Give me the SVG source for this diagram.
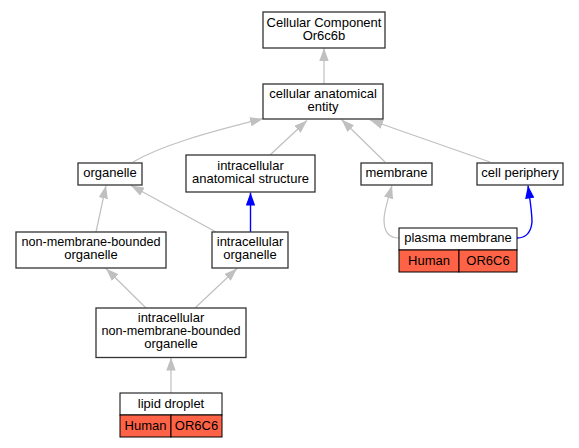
<svg xmlns="http://www.w3.org/2000/svg" width="579" height="448" viewBox="0 0 579 448">
<style>
text{font-family:"Liberation Sans",Arial,sans-serif;font-size:13px;fill:#000;text-anchor:middle}
.box{fill:#fff;stroke:#333;stroke-width:1.3}
.cell{fill:#fff;stroke:#000;stroke-width:1}
.red{fill:#ff6347;stroke:#000;stroke-width:1}
.e{fill:none;stroke:#c0c0c0;stroke-width:1.2}
.b{fill:none;stroke:#0000ff;stroke-width:1.4}
</style>
<defs>
<marker id="ag" viewBox="0 0 13 9.4" refX="13" refY="4.7" markerWidth="13" markerHeight="9.4" markerUnits="userSpaceOnUse" orient="auto"><path d="M0,0 L13,4.7 L0,9.4 z" fill="#c0c0c0"/></marker>
<marker id="ab" viewBox="0 0 13 9.4" refX="13" refY="4.7" markerWidth="13" markerHeight="9.4" markerUnits="userSpaceOnUse" orient="auto"><path d="M0,0 L13,4.7 L0,9.4 z" fill="#0000ff"/></marker>
</defs>
<g id="edges">
<path class="e" d="M324,84 L324,48" marker-end="url(#ag)"/>
<path class="e" d="M133,162 C160,146 205,133 263,118.7" marker-end="url(#ag)"/>
<path class="e" d="M270,155 L307,120.5" marker-end="url(#ag)"/>
<path class="e" d="M385,162 L341.5,119.5" marker-end="url(#ag)"/>
<path class="e" d="M490,162 L370,120" marker-end="url(#ag)"/>
<path class="b" d="M250.5,232 L250.5,192.5" marker-end="url(#ab)"/>
<path class="e" d="M96,232 L106,185.5" marker-end="url(#ag)"/>
<path class="e" d="M216,232 L131,185.5" marker-end="url(#ag)"/>
<path class="e" d="M146,308 L106,268.5" marker-end="url(#ag)"/>
<path class="e" d="M195,308 L237,268.5" marker-end="url(#ag)"/>
<path class="e" d="M171,393 L171,357.5" marker-end="url(#ag)"/>
<path class="e" d="M399,238 C388,238 384,230 384,220 C384,210 388,200 392,185.5" marker-end="url(#ag)"/>
<path class="b" d="M517,238 C527,238 531,232 532,222 C532,212 530,200 528,185.5" marker-end="url(#ab)"/>
</g>
<g id="n_cc"><rect class="box" x="263" y="12" width="122" height="36"/><text x="324" y="26.5">Cellular Component</text><text x="324" y="39.5">Or6c6b</text></g>
<g id="n_cae"><rect class="box" x="263" y="84" width="120" height="35"/><text x="323" y="98">cellular anatomical</text><text x="323" y="111">entity</text></g>
<g id="n_org"><rect class="box" x="78" y="163" width="64" height="22"/><text x="110" y="177">organelle</text></g>
<g id="n_ias"><rect class="box" x="186" y="155" width="129" height="37"/><text x="250.5" y="169.5">intracellular</text><text x="250.5" y="182.5">anatomical structure</text></g>
<g id="n_mem"><rect class="box" x="361" y="163" width="71" height="22"/><text x="396.5" y="177">membrane</text></g>
<g id="n_cp"><rect class="box" x="477" y="163" width="86" height="22"/><text x="520" y="177">cell periphery</text></g>
<g id="n_nmbo"><rect class="box" x="16" y="232" width="150" height="36"/><text x="91" y="245.5" textLength="139" lengthAdjust="spacingAndGlyphs">non-membrane-bounded</text><text x="91" y="258.5">organelle</text></g>
<g id="n_io"><rect class="box" x="212" y="232" width="76" height="36"/><text x="250" y="245.5">intracellular</text><text x="250" y="258.5">organelle</text></g>
<g id="n_pm"><rect class="cell" x="399" y="228" width="118" height="22"/><rect class="red" x="399" y="250" width="60" height="22"/><rect class="red" x="459" y="250" width="58" height="22"/><text x="458" y="242">plasma membrane</text><text x="429" y="265">Human</text><text x="488" y="265">OR6C6</text></g>
<g id="n_inmbo"><rect class="box" x="96" y="308" width="150" height="49.5"/><text x="171" y="322">intracellular</text><text x="171" y="335" textLength="139" lengthAdjust="spacingAndGlyphs">non-membrane-bounded</text><text x="171" y="348">organelle</text></g>
<g id="n_ld"><rect class="cell" x="120" y="393" width="102" height="22"/><rect class="red" x="120" y="415" width="51" height="22"/><rect class="red" x="171" y="415" width="51" height="22"/><text x="171" y="407.5">lipid droplet</text><text x="145.5" y="429.5">Human</text><text x="196.5" y="429.5">OR6C6</text></g>
</svg>
